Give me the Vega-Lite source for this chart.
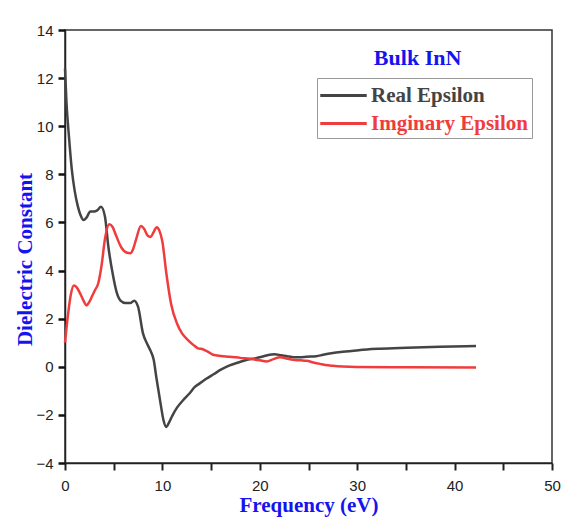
{
  "$schema": "https://vega.github.io/schema/vega-lite/v6.json",
  "width": 487,
  "height": 433,
  "autosize": {"type": "none"},
  "padding": {"left": 65, "top": 30, "right": 16, "bottom": 59},
  "background": "white",
  "config": {"view": {"stroke": "#333333", "strokeWidth": 1.5}},
  "datasets": {
    "curves": [
      {"x": 0, "y": 12.4, "s": "Real Epsilon"},
      {"x": 0.15, "y": 11.0, "s": "Real Epsilon"},
      {"x": 0.4, "y": 9.6, "s": "Real Epsilon"},
      {"x": 0.7, "y": 8.2, "s": "Real Epsilon"},
      {"x": 1.0, "y": 7.3, "s": "Real Epsilon"},
      {"x": 1.3, "y": 6.7, "s": "Real Epsilon"},
      {"x": 1.6, "y": 6.3, "s": "Real Epsilon"},
      {"x": 1.9, "y": 6.1, "s": "Real Epsilon"},
      {"x": 2.2, "y": 6.2, "s": "Real Epsilon"},
      {"x": 2.6, "y": 6.45, "s": "Real Epsilon"},
      {"x": 3.0, "y": 6.45, "s": "Real Epsilon"},
      {"x": 3.3, "y": 6.5, "s": "Real Epsilon"},
      {"x": 3.7, "y": 6.65, "s": "Real Epsilon"},
      {"x": 4.1, "y": 6.25, "s": "Real Epsilon"},
      {"x": 4.45, "y": 5.0, "s": "Real Epsilon"},
      {"x": 4.95, "y": 3.75, "s": "Real Epsilon"},
      {"x": 5.3, "y": 3.1, "s": "Real Epsilon"},
      {"x": 5.7, "y": 2.75, "s": "Real Epsilon"},
      {"x": 6.2, "y": 2.65, "s": "Real Epsilon"},
      {"x": 6.7, "y": 2.65, "s": "Real Epsilon"},
      {"x": 7.1, "y": 2.75, "s": "Real Epsilon"},
      {"x": 7.5, "y": 2.5, "s": "Real Epsilon"},
      {"x": 8.0, "y": 1.4, "s": "Real Epsilon"},
      {"x": 8.5, "y": 0.9, "s": "Real Epsilon"},
      {"x": 8.8, "y": 0.65, "s": "Real Epsilon"},
      {"x": 9.1, "y": 0.3, "s": "Real Epsilon"},
      {"x": 9.4, "y": -0.5, "s": "Real Epsilon"},
      {"x": 9.8, "y": -1.5, "s": "Real Epsilon"},
      {"x": 10.1, "y": -2.2, "s": "Real Epsilon"},
      {"x": 10.4, "y": -2.5, "s": "Real Epsilon"},
      {"x": 10.7, "y": -2.3, "s": "Real Epsilon"},
      {"x": 11.0, "y": -2.05, "s": "Real Epsilon"},
      {"x": 11.5, "y": -1.7, "s": "Real Epsilon"},
      {"x": 12.1, "y": -1.4, "s": "Real Epsilon"},
      {"x": 12.8, "y": -1.1, "s": "Real Epsilon"},
      {"x": 13.3, "y": -0.85, "s": "Real Epsilon"},
      {"x": 13.8, "y": -0.7, "s": "Real Epsilon"},
      {"x": 14.5, "y": -0.5, "s": "Real Epsilon"},
      {"x": 15.3, "y": -0.3, "s": "Real Epsilon"},
      {"x": 16.0, "y": -0.12, "s": "Real Epsilon"},
      {"x": 16.9, "y": 0.06, "s": "Real Epsilon"},
      {"x": 17.8, "y": 0.18, "s": "Real Epsilon"},
      {"x": 18.6, "y": 0.28, "s": "Real Epsilon"},
      {"x": 19.5, "y": 0.35, "s": "Real Epsilon"},
      {"x": 20.2, "y": 0.42, "s": "Real Epsilon"},
      {"x": 21.0, "y": 0.5, "s": "Real Epsilon"},
      {"x": 21.5, "y": 0.52, "s": "Real Epsilon"},
      {"x": 22.2, "y": 0.48, "s": "Real Epsilon"},
      {"x": 22.8, "y": 0.44, "s": "Real Epsilon"},
      {"x": 23.5, "y": 0.4, "s": "Real Epsilon"},
      {"x": 24.1, "y": 0.4, "s": "Real Epsilon"},
      {"x": 24.8, "y": 0.42, "s": "Real Epsilon"},
      {"x": 25.8, "y": 0.44, "s": "Real Epsilon"},
      {"x": 26.5, "y": 0.5, "s": "Real Epsilon"},
      {"x": 27.5, "y": 0.57, "s": "Real Epsilon"},
      {"x": 28.5, "y": 0.62, "s": "Real Epsilon"},
      {"x": 29.9, "y": 0.68, "s": "Real Epsilon"},
      {"x": 31.0, "y": 0.72, "s": "Real Epsilon"},
      {"x": 32.3, "y": 0.75, "s": "Real Epsilon"},
      {"x": 35.1, "y": 0.79, "s": "Real Epsilon"},
      {"x": 38.5, "y": 0.83, "s": "Real Epsilon"},
      {"x": 42.2, "y": 0.86, "s": "Real Epsilon"},
      {"x": 0, "y": 1.0, "s": "Imginary Epsilon"},
      {"x": 0.15, "y": 1.6, "s": "Imginary Epsilon"},
      {"x": 0.35, "y": 2.3, "s": "Imginary Epsilon"},
      {"x": 0.6, "y": 3.0, "s": "Imginary Epsilon"},
      {"x": 0.9, "y": 3.38, "s": "Imginary Epsilon"},
      {"x": 1.2, "y": 3.3, "s": "Imginary Epsilon"},
      {"x": 1.55, "y": 3.05, "s": "Imginary Epsilon"},
      {"x": 1.9, "y": 2.75, "s": "Imginary Epsilon"},
      {"x": 2.2, "y": 2.55, "s": "Imginary Epsilon"},
      {"x": 2.5, "y": 2.7, "s": "Imginary Epsilon"},
      {"x": 2.8, "y": 2.95, "s": "Imginary Epsilon"},
      {"x": 3.1, "y": 3.2, "s": "Imginary Epsilon"},
      {"x": 3.4, "y": 3.45, "s": "Imginary Epsilon"},
      {"x": 3.75, "y": 4.2, "s": "Imginary Epsilon"},
      {"x": 4.1, "y": 5.3, "s": "Imginary Epsilon"},
      {"x": 4.55, "y": 5.92, "s": "Imginary Epsilon"},
      {"x": 4.9, "y": 5.8, "s": "Imginary Epsilon"},
      {"x": 5.2, "y": 5.5, "s": "Imginary Epsilon"},
      {"x": 5.8, "y": 4.95, "s": "Imginary Epsilon"},
      {"x": 6.3, "y": 4.75, "s": "Imginary Epsilon"},
      {"x": 6.7, "y": 4.72, "s": "Imginary Epsilon"},
      {"x": 7.0, "y": 4.9, "s": "Imginary Epsilon"},
      {"x": 7.3, "y": 5.3, "s": "Imginary Epsilon"},
      {"x": 7.8, "y": 5.85, "s": "Imginary Epsilon"},
      {"x": 8.1, "y": 5.75, "s": "Imginary Epsilon"},
      {"x": 8.5, "y": 5.45, "s": "Imginary Epsilon"},
      {"x": 8.8, "y": 5.4, "s": "Imginary Epsilon"},
      {"x": 9.1, "y": 5.6, "s": "Imginary Epsilon"},
      {"x": 9.4, "y": 5.8, "s": "Imginary Epsilon"},
      {"x": 9.7, "y": 5.65, "s": "Imginary Epsilon"},
      {"x": 10.0, "y": 5.2, "s": "Imginary Epsilon"},
      {"x": 10.4, "y": 3.9, "s": "Imginary Epsilon"},
      {"x": 10.9, "y": 2.6, "s": "Imginary Epsilon"},
      {"x": 11.5, "y": 1.8, "s": "Imginary Epsilon"},
      {"x": 12.0, "y": 1.4, "s": "Imginary Epsilon"},
      {"x": 12.6, "y": 1.12, "s": "Imginary Epsilon"},
      {"x": 13.2, "y": 0.9, "s": "Imginary Epsilon"},
      {"x": 13.6, "y": 0.78, "s": "Imginary Epsilon"},
      {"x": 14.2, "y": 0.72, "s": "Imginary Epsilon"},
      {"x": 14.7, "y": 0.62, "s": "Imginary Epsilon"},
      {"x": 15.2, "y": 0.5, "s": "Imginary Epsilon"},
      {"x": 16.0, "y": 0.45, "s": "Imginary Epsilon"},
      {"x": 16.9, "y": 0.42, "s": "Imginary Epsilon"},
      {"x": 18.0, "y": 0.37, "s": "Imginary Epsilon"},
      {"x": 19.0, "y": 0.33, "s": "Imginary Epsilon"},
      {"x": 20.0, "y": 0.27, "s": "Imginary Epsilon"},
      {"x": 20.7, "y": 0.22, "s": "Imginary Epsilon"},
      {"x": 21.4, "y": 0.32, "s": "Imginary Epsilon"},
      {"x": 22.1, "y": 0.4, "s": "Imginary Epsilon"},
      {"x": 22.8, "y": 0.34, "s": "Imginary Epsilon"},
      {"x": 23.4, "y": 0.29, "s": "Imginary Epsilon"},
      {"x": 24.2, "y": 0.27, "s": "Imginary Epsilon"},
      {"x": 24.8, "y": 0.25, "s": "Imginary Epsilon"},
      {"x": 25.5, "y": 0.18, "s": "Imginary Epsilon"},
      {"x": 26.2, "y": 0.12, "s": "Imginary Epsilon"},
      {"x": 27.0, "y": 0.06, "s": "Imginary Epsilon"},
      {"x": 27.5, "y": 0.04, "s": "Imginary Epsilon"},
      {"x": 28.5, "y": 0.01, "s": "Imginary Epsilon"},
      {"x": 29.9, "y": -0.01, "s": "Imginary Epsilon"},
      {"x": 35.0, "y": -0.02, "s": "Imginary Epsilon"},
      {"x": 42.2, "y": -0.03, "s": "Imginary Epsilon"}
    ],
    "label": [{"x": 36.2, "y": 12.84, "t": "Bulk InN"}]
  },
  "layer": [
    {
      "mark": {"type": "rule", "color": "#33dd33", "strokeWidth": 2, "strokeDash": [9, 6]},
      "encoding": {"y": {"datum": 0}}
    },
    {
      "data": {"name": "curves"},
      "mark": {"type": "line", "strokeWidth": 2.5, "interpolate": "monotone"},
      "encoding": {
        "x": {
          "field": "x", "type": "quantitative",
          "scale": {"domain": [0, 50], "nice": false},
          "axis": {
            "title": "Frequency (eV)",
            "values": [0, 5, 10, 15, 20, 25, 30, 35, 40, 45, 50],
            "labelExpr": "datum.value % 10 === 0 ? datum.label : ''",
            "labelFlush": false, "labelOverlap": false,
            "ticks": true,
            "tickSize": 7,
            "grid": false,
            "domainColor": "#222222", "tickColor": "#222222",
            "domainWidth": 1.5, "tickWidth": 2,
            "labelFont": "Liberation Sans", "labelFontSize": 15, "labelColor": "#222222",
            "labelPadding": 8,
            "titleFont": "Liberation Serif", "titleFontSize": 21, "titleFontWeight": "bold",
            "titleColor": "#1414ee", "titlePadding": 1,
            "encode": {"ticks": {"update": {"y2": {"signal": "datum.value % 10 === 0 ? 7 : 4"}}}}
          }
        },
        "y": {
          "field": "y", "type": "quantitative",
          "scale": {"domain": [-4, 14], "nice": false},
          "axis": {
            "title": "Dielectric Constant",
            "values": [-4, -3, -2, -1, 0, 1, 2, 3, 4, 5, 6, 7, 8, 9, 10, 11, 12, 13, 14],
            "labelExpr": "datum.value % 2 === 0 ? datum.label : ''",
            "labelFlush": false, "labelOverlap": false,
            "ticks": true,
            "tickSize": 7,
            "grid": false,
            "domainColor": "#222222", "tickColor": "#111111",
            "domainWidth": 1.5, "tickWidth": 2.5,
            "labelFont": "Liberation Sans", "labelFontSize": 15, "labelColor": "#222222",
            "labelPadding": 5,
            "titleFont": "Liberation Serif", "titleFontSize": 21, "titleFontWeight": "bold",
            "titleColor": "#1414ee", "titlePadding": 0, "titleY": 229,
            "encode": {"ticks": {"update": {"x2": {"signal": "datum.value % 2 === 0 ? -7 : -4"}}}}
          }
        },
        "color": {
          "field": "s", "type": "nominal",
          "scale": {"domain": ["Real Epsilon", "Imginary Epsilon"], "range": ["#444444", "#f03c3c"]},
          "legend": {
            "title": null,
            "orient": "none", "legendX": 252, "legendY": 48,
            "strokeColor": "#999999", "padding": 4,
            "symbolType": "M-2,0H2", "symbolSize": 540, "symbolStrokeWidth": 3, "symbolOffset": 9,
            "labelFont": "Liberation Serif", "labelFontWeight": "bold", "labelFontSize": 21,
            "labelOffset": 14, "rowPadding": 4, "labelLimit": 300,
            "encode": {"labels": {"update": {"fill": {"scale": "color", "field": "value"}}}}
          }
        }
      }
    },
    {
      "data": {"name": "label"},
      "mark": {"type": "text", "font": "Liberation Serif", "fontWeight": "bold", "fontSize": 22, "color": "#1414ee", "baseline": "middle"},
      "encoding": {
        "x": {"field": "x", "type": "quantitative"},
        "y": {"field": "y", "type": "quantitative"},
        "text": {"field": "t"}
      }
    }
  ]
}
